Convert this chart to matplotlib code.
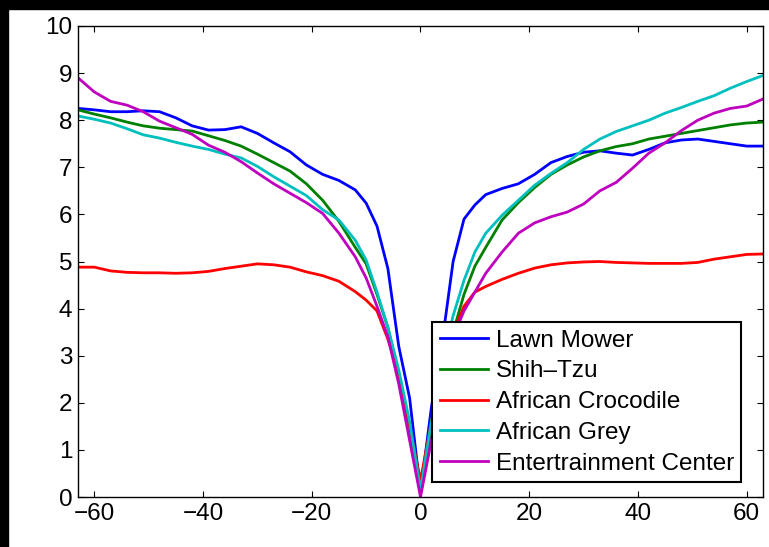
import matplotlib
matplotlib.use("Agg")
import matplotlib.pyplot as plt
from matplotlib.patches import Rectangle

plt.rcParams["font.family"] = ["Liberation Sans", "DejaVu Sans"]

lags = [-63, -60, -57, -54, -51, -48, -45, -42, -39, -36, -33, -30, -27, -24,
        -21, -18, -15, -12, -10, -8, -6, -4, -2, 0, 2, 4, 6, 8, 10, 12, 15, 18,
        21, 24, 27, 30, 33, 36, 39, 42, 45, 48, 51, 54, 57, 60, 63]

lawn_mower = [8.25, 8.22, 8.18, 8.18, 8.20, 8.18, 8.05, 7.88, 7.79, 7.80, 7.86,
              7.72, 7.52, 7.33, 7.05, 6.85, 6.72, 6.52, 6.24, 5.75, 4.85, 3.20,
              2.10, 0.10, 1.90, 3.30, 5.00, 5.90, 6.20, 6.42, 6.55, 6.65, 6.85,
              7.10, 7.23, 7.32, 7.35, 7.30, 7.26, 7.38, 7.52, 7.58, 7.60, 7.55,
              7.50, 7.45, 7.45]
shih_tzu = [8.22, 8.13, 8.05, 7.96, 7.88, 7.83, 7.80, 7.77, 7.67, 7.57, 7.45,
            7.28, 7.10, 6.92, 6.65, 6.30, 5.85, 5.30, 4.95, 4.30, 3.60, 2.60,
            1.50, 0.10, 1.30, 2.60, 3.50, 4.30, 4.90, 5.30, 5.88, 6.25, 6.57,
            6.85, 7.05, 7.22, 7.35, 7.44, 7.50, 7.60, 7.66, 7.72, 7.78, 7.84,
            7.90, 7.94, 7.96]
crocodile = [4.88, 4.88, 4.80, 4.77, 4.76, 4.76, 4.75, 4.76, 4.79, 4.85, 4.90,
             4.95, 4.93, 4.88, 4.78, 4.70, 4.58, 4.36, 4.18, 3.95, 3.35, 2.60,
             1.50, 0.35, 1.60, 2.70, 3.50, 4.05, 4.35, 4.47, 4.62, 4.75, 4.86,
             4.93, 4.97, 4.99, 5.00, 4.98, 4.97, 4.96, 4.96, 4.96, 4.98, 5.05,
             5.10, 5.15, 5.16]
african_grey = [8.09, 8.02, 7.94, 7.82, 7.69, 7.62, 7.53, 7.45, 7.38, 7.28, 7.20,
                7.02, 6.80, 6.60, 6.40, 6.10, 5.88, 5.45, 5.03, 4.35, 3.60, 2.70,
                1.60, 0.15, 1.60, 2.90, 3.85, 4.60, 5.20, 5.60, 5.98, 6.30, 6.62,
                6.87, 7.10, 7.38, 7.60, 7.76, 7.88, 8.00, 8.15, 8.27, 8.40, 8.52,
                8.68, 8.82, 8.95]
entertainment = [8.90, 8.60, 8.40, 8.32, 8.18, 7.98, 7.84, 7.70, 7.47, 7.32, 7.12,
                 6.88, 6.65, 6.45, 6.25, 6.02, 5.60, 5.10, 4.65, 4.05, 3.40, 2.40,
                 1.20, 0.00, 1.20, 2.40, 3.40, 3.95, 4.35, 4.75, 5.20, 5.60, 5.82,
                 5.95, 6.05, 6.22, 6.50, 6.68, 6.98, 7.30, 7.52, 7.78, 8.00, 8.15,
                 8.25, 8.30, 8.45]

series = [
    ("Lawn Mower", lawn_mower, (0, 0, 1)),
    ("Shih\u2013Tzu", shih_tzu, (0, 0.5, 0)),
    ("African Crocodile", crocodile, (1, 0, 0)),
    ("African Grey", african_grey, (0, 0.75, 0.75)),
    ("Entertrainment Center", entertainment, (0.75, 0, 0.75)),
]

fig = plt.figure(figsize=(7.69, 5.47), dpi=100)
# black strips along the top and left edge of the capture
fig.patches.append(Rectangle((0, 1 - 9 / 547), 1, 9 / 547, transform=fig.transFigure,
                             color="black", zorder=-1))
fig.patches.append(Rectangle((0, 0), 8 / 769, 1, transform=fig.transFigure,
                             color="black", zorder=-1))

ax = fig.add_axes([78 / 769, 50 / 547, 685 / 769, 471 / 547])
for name, values, color in series:
    ax.plot(lags, values, color=color, linewidth=2.0, label=name)

ax.set_xlim(-63, 63)
ax.set_ylim(0, 10)
ax.set_xticks(range(-60, 61, 20))
ax.set_yticks(range(0, 11))
ax.tick_params(direction="in", top=True, right=True, length=4, width=0.8,
               labelsize=17.5, colors="black", pad=4)
for spine in ax.spines.values():
    spine.set_linewidth(1.0)

leg = ax.legend(loc="lower right", bbox_to_anchor=(0.968, 0.032), borderaxespad=0,
                fontsize=17.5, handlelength=2.0, handletextpad=0.3,
                labelspacing=0.36, fancybox=False, framealpha=1,
                edgecolor="black", borderpad=0.3)
leg.get_frame().set_linewidth(1.5)

fig.savefig("out.png", dpi=100)
